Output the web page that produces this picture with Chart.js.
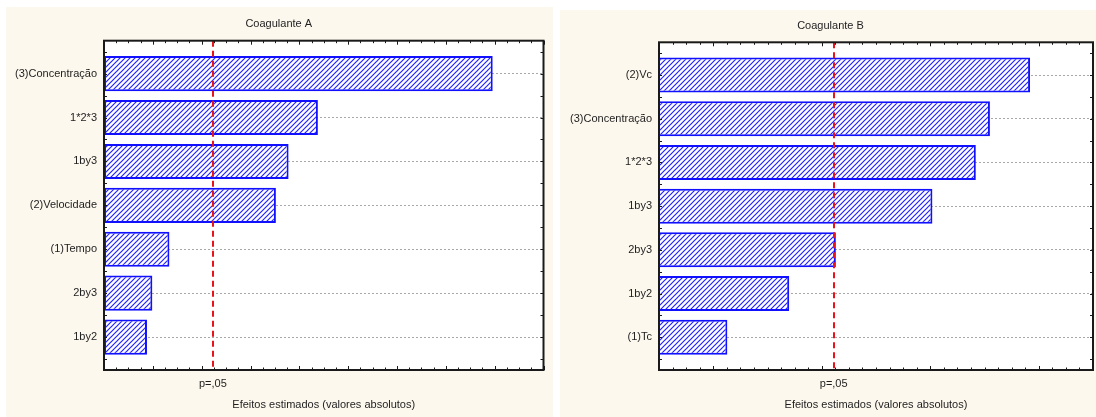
<!DOCTYPE html>
<html>
<head>
<meta charset="utf-8">
<script src="https://cdn.jsdelivr.net/npm/chart.js@4"></script>
<style>
  body { margin: 0; background: #fff; width: 1096px; height: 417px; overflow: hidden; position: relative; }
  .panel { position: absolute; background: #fdf8ee; }
  #panelA { left: 6px; top: 7px; width: 547px; height: 410px; }
  #panelB { left: 560px; top: 10px; width: 536px; height: 407px; }
</style>
</head>
<body>
<div class="panel" id="panelA"><canvas id="chartA" width="547" height="410"></canvas></div>
<div class="panel" id="panelB"><canvas id="chartB" width="536" height="407"></canvas></div>
<script>
// Coagulante A
const categoriesA = ['(3)Concentração', '1*2*3', '1by3', '(2)Velocidade', '(1)Tempo', '2by3', '1by2'];
const effectsA = [7.96, 4.38, 3.78, 3.52, 1.34, 0.99, 0.88];
const critA = 2.23;
const rangeA = [0, 9];

// Coagulante B
const categoriesB = ['(2)Vc', '(3)Concentração', '1*2*3', '1by3', '2by3', '1by2', '(1)Tc'];
const effectsB = [3.92, 3.55, 3.42, 3.02, 2.13, 1.70, 1.13];
const critB = 2.11;
const rangeB = [0.5, 4.5];

const pLabel = 'p=,05';
const xTitle = 'Efeitos estimados (valores absolutos)';
const textColor = '#1e1e1e';
const font = { family: '"Liberation Sans", Arial, sans-serif', size: 11 };

function makeHatch(color) {
    const c = document.createElement('canvas');
    c.width = 5; c.height = 5;
    const g = c.getContext('2d');
    g.fillStyle = '#fff';
    g.fillRect(0, 0, 5, 5);
    g.strokeStyle = color;
    g.lineWidth = 1.2;
    g.beginPath();
    g.moveTo(-1, 6); g.lineTo(6, -1);
    g.moveTo(-1, 1); g.lineTo(1, -1);
    g.moveTo(4, 6); g.lineTo(6, 4);
    g.stroke();
    return g.createPattern(c, 'repeat');
}

const frame = {
    id: 'frame',
    beforeDatasetsDraw(chart) {
        const a = chart.chartArea, ctx = chart.ctx;
        ctx.save();
        ctx.globalCompositeOperation = 'destination-over';
        ctx.fillStyle = '#fff';
        ctx.fillRect(a.left, a.top, a.width, a.height);
        ctx.restore();
    },
    afterDatasetsDraw(chart, args, o) {
        const {ctx, chartArea: a, scales: {x}} = chart;
        const px = Math.round(x.getPixelForValue(o.crit));
        ctx.save();
        ctx.strokeStyle = '#e8141c';
        ctx.lineWidth = 2;
        ctx.setLineDash([6, 4]);
        ctx.beginPath();
        ctx.moveTo(px, a.top);
        ctx.lineTo(px, a.bottom);
        ctx.stroke();
        ctx.restore();
    },
    afterDraw(chart, args, o) {
        const {ctx, chartArea: a, scales: {x, y}} = chart;
        ctx.save();
        ctx.strokeStyle = '#1a1a1a';
        ctx.lineWidth = 1;
        ctx.beginPath();
        const n = Math.round((o.max - o.min) / o.minor);
        for (let k = 0; k <= n; k++) {
            const v = o.min + k * o.minor;
            const px = Math.round(x.getPixelForValue(v)) + 0.5;
            const len = Math.abs(v - Math.round(v)) < 1e-6 ? 4 : 2.5;
            ctx.moveTo(px, a.bottom); ctx.lineTo(px, a.bottom - len);
            ctx.moveTo(px, a.top); ctx.lineTo(px, a.top + len);
        }
        for (let k = -1; k <= 13; k++) {
            const py = Math.round(y.getPixelForValue(k / 2)) + 0.5;
            ctx.moveTo(a.left, py); ctx.lineTo(a.left + 3, py);
            ctx.moveTo(a.right, py); ctx.lineTo(a.right - 3, py);
        }
        ctx.stroke();
        ctx.lineWidth = 2;
        ctx.strokeRect(a.left, a.top, a.width, a.height);
        ctx.restore();
    }
};

function buildChart(id, title, cats, vals, crit, range, minor, yWidth, padRight, titlePad) {
    const ctx = document.getElementById(id).getContext('2d');
    return new Chart(ctx, {
        type: 'bar',
        data: {
            datasets: [{
                data: vals.map((v, i) => ({x: v, y: i})),
                backgroundColor: makeHatch('#2323ff'),
                borderColor: '#1010ff',
                borderWidth: 2,
                borderSkipped: false,
                barPercentage: 0.8,
                categoryPercentage: 1
            }]
        },
        plugins: [frame],
        options: {
            indexAxis: 'y',
            responsive: false, animation: false, devicePixelRatio: 1,
            layout: { padding: { left: 8, right: padRight, top: 0, bottom: 0 } },
            plugins: {
                legend: { display: false },
                tooltip: { enabled: false },
                title: { display: true, text: title, color: textColor, font: { ...font, weight: 'normal' }, padding: titlePad },
                frame: { crit: crit, min: range[0], max: range[1], minor: minor }
            },
            scales: {
                x: {
                    type: 'linear', min: range[0], max: range[1],
                    afterBuildTicks: s => { s.ticks = [{value: crit}]; },
                    afterFit: s => { s.height = 47; },
                    ticks: { callback: () => pLabel, color: textColor, font: font, padding: 7, autoSkip: false, maxRotation: 0 },
                    grid: { display: false, drawTicks: false },
                    border: { display: false },
                    title: { display: true, text: xTitle, color: textColor, font: font, padding: { top: 0, bottom: 5 } }
                },
                y: {
                    type: 'linear', reverse: true, min: -0.75, max: 6.75, offset: false,
                    afterBuildTicks: s => { s.ticks = cats.map((c, i) => ({value: i})); },
                    afterFit: s => { s.width = yWidth; },
                    ticks: { callback: v => cats[v], color: textColor, font: font, padding: 7, autoSkip: false },
                    grid: { color: '#a8a8a8', lineWidth: 1, drawTicks: false, offset: false },
                    border: { display: false, dash: [2, 2] }
                }
            }
        }
    });
}

buildChart('chartA', 'Coagulante A', categoriesA, effectsA, critA, rangeA, 0.25, 90, 9.5, { top: 10, bottom: 10.5 });
buildChart('chartB', 'Coagulante B', categoriesB, effectsB, critB, rangeB, 0.125, 91, 3, { top: 9.5, bottom: 9.6 });
</script>
</body>
</html>
